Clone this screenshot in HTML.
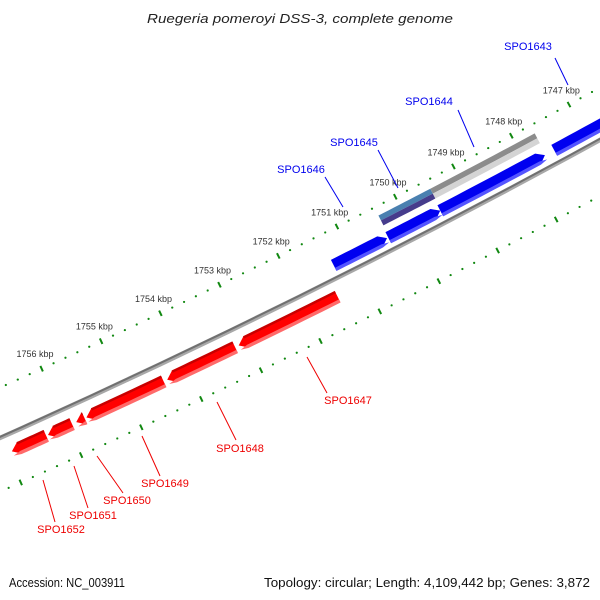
<!DOCTYPE html>
<html><head><meta charset="utf-8"><style>
html,body{margin:0;padding:0;background:#fff;}
svg{display:block;}
text{font-family:"Liberation Sans",sans-serif;}
</style></head><body>
<svg id="map" width="600" height="600" viewBox="0 0 600 600" xmlns="http://www.w3.org/2000/svg">
<rect width="600" height="600" fill="#fff"/>
<text x="300" y="23" text-anchor="middle" font-size="13" font-style="italic" fill="#222" textLength="306" lengthAdjust="spacingAndGlyphs">Ruegeria pomeroyi DSS-3, complete genome</text>
<g id="layer"></g>
<text x="9" y="587" font-size="12.5" fill="#111" textLength="116" lengthAdjust="spacingAndGlyphs">Accession: NC_003911</text>
<text x="590" y="587" text-anchor="end" font-size="12.5" fill="#111" textLength="326" lengthAdjust="spacingAndGlyphs">Topology: circular; Length: 4,109,442 bp; Genes: 3,872</text>
</svg>
<script>
// data (kbp)
const tickLabels = [1747,1748,1749,1750,1751,1752,1753,1754,1755,1756];
const blueGeneStarts = [1751.31,1750.38,1749.49,1747.53];
const blueGeneEnds   = [1750.40,1749.49,1747.69,1746.0];
const redGeneStarts  = [1751.47,1753.20,1754.40,1755.72,1755.93,1756.36];
const redGeneEnds    = [1753.14,1754.34,1755.69,1755.86,1756.33,1756.93];
const overlayStarts  = [1750.36,1749.47];
const overlayEnds    = [1749.47,1747.67];
const blueNames = ["SPO1646","SPO1645","SPO1644","SPO1643"];
const redNames  = ["SPO1647","SPO1648","SPO1649","SPO1650","SPO1651","SPO1652"];

const NS="http://www.w3.org/2000/svg";
const layer=document.getElementById('layer');
const CX=-3430, CY=-7221;
function ang(k){return (62.27+(k-1749)*0.45)*Math.PI/180;}
function pt(k,r){const a=ang(k);return [CX+r*Math.cos(a),CY+r*Math.sin(a)];}
function mk(tag,attrs){const e=document.createElementNS(NS,tag);for(const k in attrs)e.setAttribute(k,attrs[k]);layer.appendChild(e);return e;}
function arcPath(k1,k2,r){let d='';const n=12;for(let i=0;i<=n;i++){const k=k1+(k2-k1)*i/n;const p=pt(k,r);d+=(i?'L':'M')+p[0].toFixed(2)+','+p[1].toFixed(2);}return d;}
function poly(pts){return 'M'+pts.map(p=>p[0].toFixed(2)+','+p[1].toFixed(2)).join('L')+'Z';}
function band(k1,k2,r1,r2){const pts=[];const n=10;for(let i=0;i<=n;i++)pts.push(pt(k1+(k2-k1)*i/n,r1));for(let i=n;i>=0;i--)pts.push(pt(k1+(k2-k1)*i/n,r2));return poly(pts);}
function arrow(s,e,rIn,rOut){const dir=Math.sign(e-s);const head=0.12*dir;let base=e-head;if((base-s)*dir<0)base=s;
  const rm=(rIn+rOut)/2;const pts=[];const n=10;
  for(let i=0;i<=n;i++)pts.push(pt(s+(base-s)*i/n,rOut));
  pts.push(pt(e,rm));
  for(let i=n;i>=0;i--)pts.push(pt(s+(base-s)*i/n,rIn));
  return poly(pts);}

// tick rings
const RU=8346, RL=8441;
[RU,RL].forEach((R,ri)=>{
  for(let k=17450;k<=17590;k+=2){const kb=k/10;
    if(k%10===0){const a=pt(kb,R-3),b=pt(kb,R+3);
      const t=mk('line',{x1:a[0],y1:a[1],x2:b[0],y2:b[1],stroke:'#118811','stroke-width':2});
      
    }else{const p=pt(kb,R);const c=mk('circle',{cx:p[0],cy:p[1],r:1.1,fill:'#118811'});
      }
  }
});
tickLabels.forEach(k=>{const p=pt(k,RU-16);
  const t=mk('text',{x:p[0],y:p[1]+3,'text-anchor':'middle','font-size':9,fill:'#333'});t.textContent=k+' kbp';
  });

// overlay (grey / steelblue) band
const ovTop=['#4a80b0','#8c8c8c'], ovBot=['#463c8c','#d4d4d4'];
overlayStarts.forEach((s,i)=>{const e=overlayEnds[i];
  const a=mk('path',{d:band(s,e,8355,8360.5),fill:ovTop[i]});
  const b=mk('path',{d:band(s,e,8360.5,8366),fill:ovBot[i]});
});

// backbone
const bb1=mk('path',{d:arcPath(1745,1759,8392),fill:'none',stroke:'#a8a8a8','stroke-width':4.5});

const bb2=mk('path',{d:arcPath(1745,1759,8391),fill:'none',stroke:'#707070','stroke-width':2});


// blue genes
blueGeneStarts.forEach((s,i)=>{const e=blueGeneEnds[i];
  const g=mk('path',{d:arrow(s,e,8373,8385),fill:'#0000f0'});
  const h=mk('path',{d:arrow(s,e,8382,8385.5),fill:'#5555ff'});
});
// red genes
redGeneStarts.forEach((s,i)=>{const e=redGeneEnds[i];
  const g=mk('path',{d:arrow(s,e,8403,8415),fill:'#ff0000'});
  const h=mk('path',{d:band(s,e-0.12,8402.5,8405),fill:'#c80000'});
  const l=mk('path',{d:arrow(s,e,8412,8415.5),fill:'#ff6a6a'});
});

// labels with leader lines
const blueLab=[[301,173,325,177,343,207],[354,146,378,150,398,188],[429,105,458,110,474,147],[528,50,555,58,568,85]];
const redLab=[[348,404,327,393,307,357],[240,452,236,440,217,402],[165,487,160,476,142,436],[127,504,123,493,97,456],[93,519,88,508,74,466],[61,533,55,522,43,480]];
function lab(arr,names,col){arr.forEach((a,i)=>{
  const l=mk('line',{x1:a[2],y1:a[3],x2:a[4],y2:a[5],stroke:col,'stroke-width':1});
  const t=mk('text',{x:a[0],y:a[1],'text-anchor':'middle','font-size':11,fill:col});t.textContent=names[i];
  });}
lab(blueLab,blueNames,'#0000ee');
lab(redLab,redNames,'#ee0000');
</script>
</body></html>
